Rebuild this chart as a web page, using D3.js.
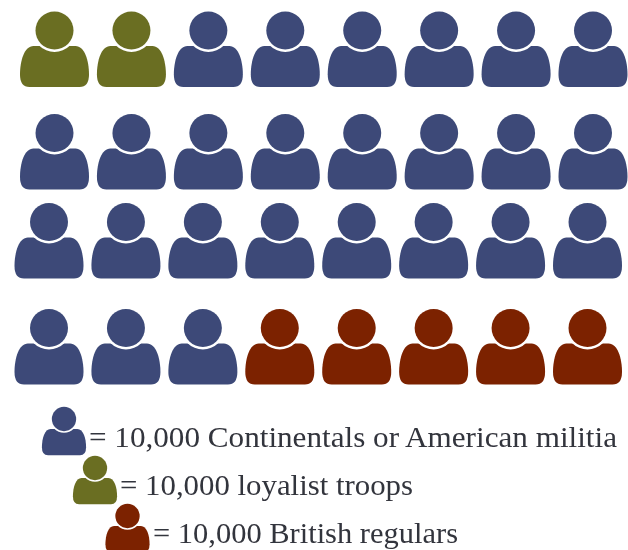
<!DOCTYPE html>
<html>
<head>
<meta charset="utf-8">
<script src="https://cdn.jsdelivr.net/npm/d3@7"></script>
<style>
  html, body { margin: 0; padding: 0; background: #fff; }
  svg { display: block; }
  text { font-family: "Liberation Serif", serif; font-variant-numeric: oldstyle-nums; }
</style>
</head>
<body>
<div id="chart"></div>
<script>
// one icon = 10,000 soldiers
const forces = ['loyalist', 'continental', 'british'];
const forceCounts = [2, 25, 5];
const legendForces = ['continental', 'loyalist', 'british'];
const legendLabels = [
  '10,000 Continentals or American militia',
  '10,000 loyalist troops',
  '10,000 British regulars'
];
const rowNames = ['row1', 'row2', 'row3', 'row4'];
const columnNames = ['c1', 'c2', 'c3', 'c4', 'c5', 'c6', 'c7', 'c8'];

const width = 628, height = 550;

const color = d3.scaleOrdinal()
  .domain(forces)
  .range(['#6a6e24', '#3c4a78', '#7b2100']);

const xScale = d3.scalePoint().domain(columnNames).range([54.5, 593]);

// the rows are not evenly spaced in the picture, and the lower two sit a little left
const rowY = d3.scaleOrdinal().domain(rowNames).range([30.5, 133, 222, 328]);
const rowShift = d3.scaleOrdinal().domain(rowNames).range([0, 0, -5.5, -5.5]);

const legendY = d3.scaleOrdinal().domain(legendForces).range([419, 468, 516]);
const legendX = d3.scaleOrdinal().domain(legendForces).range([64, 95, 127.5]);
const labelX = d3.scaleOrdinal().domain(legendForces).range([89, 120, 153]);
const labelY = d3.scaleOrdinal().domain(legendForces).range([447, 495, 543]);
const labelWidth = d3.scaleOrdinal().domain(legendForces).range([528, 293, 305]);

const bodyPath = 'M -25 56.5 Q -34.5 56.5 -34.5 44 C -34.5 30 -30 15.5 -21 15.5 ' +
  'L 21 15.5 C 30 15.5 34.5 30 34.5 44 Q 34.5 56.5 25 56.5 Z';

const svg = d3.select('#chart').append('svg')
  .attr('width', width)
  .attr('height', height);

svg.append('defs').append('filter')
  .attr('id', 'soft')
  .append('feGaussianBlur')
  .attr('stdDeviation', 0.5);

function drawPerson(sel) {
  sel.append('path')
    .attr('d', bodyPath)
    .attr('fill', d => color(d));
  sel.append('circle')
    .attr('r', 21.5)
    .attr('fill', '#fff');
  sel.append('circle')
    .attr('r', 19)
    .attr('fill', d => color(d));
}

// expand the counts into one entry per icon, filled row by row
const people = forces.flatMap((f, i) => d3.range(forceCounts[i]).map(() => f));

const chart = svg.append('g').attr('filter', 'url(#soft)');

chart.selectAll('g.person')
  .data(people)
  .join('g')
  .attr('class', 'person')
  .attr('transform', (d, i) => {
    const col = columnNames[i % columnNames.length];
    const row = rowNames[Math.floor(i / columnNames.length)];
    return `translate(${xScale(col) + rowShift(row)},${rowY(row)})`;
  })
  .call(drawPerson);

const legend = chart.selectAll('g.legend')
  .data(legendForces)
  .join('g')
  .attr('class', 'legend');

legend.append('g')
  .attr('transform', d => `translate(${legendX(d)},${legendY(d)}) scale(0.64)`)
  .call(drawPerson);

legend.append('text')
  .attr('x', d => labelX(d))
  .attr('y', d => labelY(d))
  .attr('font-size', 30)
  .attr('fill', '#33343c')
  .attr('textLength', d => labelWidth(d))
  .attr('lengthAdjust', 'spacingAndGlyphs')
  .text((d, i) => '= ' + legendLabels[i]);
</script>
</body>
</html>
